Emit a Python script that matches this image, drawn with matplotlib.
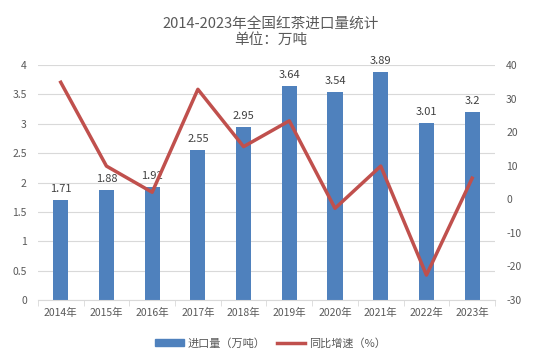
import matplotlib
matplotlib.use("Agg")
import matplotlib.pyplot as plt
from matplotlib.lines import Line2D
from matplotlib.patches import Patch

plt.rcParams['font.family'] = ['Noto Sans CJK SC', 'DejaVu Sans']
plt.rcParams['axes.unicode_minus'] = False

years = ["2014年", "2015年", "2016年", "2017年", "2018年", "2019年", "2020年", "2021年", "2022年", "2023年"]
imports = [1.71, 1.88, 1.92, 2.55, 2.95, 3.64, 3.54, 3.89, 3.01, 3.2]
growth = [34.9, 9.9, 2.1, 32.8, 15.7, 23.4, -2.7, 9.9, -22.6, 6.3]
labels = ["1.71", "1.88", "1.92", "2.55", "2.95", "3.64", "3.54", "3.89", "3.01", "3.2"]

txt = "#595959"
fig = plt.figure(figsize=(5.41, 3.6), dpi=100)
ax = fig.add_axes([0.070, 0.167, 0.845, 0.652])
ax2 = ax.twinx()

x = list(range(len(years)))
ax.bar(x, imports, width=0.33, color="#4F81BD", zorder=2)
for xi, v, l in zip(x, imports, labels):
    ax.text(xi, v + 0.1, l, ha="center", va="bottom", fontsize=8, color="#404040", zorder=5)
ax2.plot(x, growth, color="#C0504D", lw=2.5, zorder=3)

ax.set_ylim(0, 4)
ax.set_yticks([0, 0.5, 1, 1.5, 2, 2.5, 3, 3.5, 4])
ax.set_yticklabels(["0", "0.5", "1", "1.5", "2", "2.5", "3", "3.5", "4"])
ax2.set_ylim(-30, 40)
ax2.set_yticks(range(-30, 41, 10))
ax.set_xlim(-0.5, 9.5)
ax.set_xticks(x)
ax.set_xticklabels(years)
ax.grid(axis="y", color="#D9D9D9", lw=0.8, zorder=0)
ax.set_axisbelow(True)
for a in (ax, ax2):
    for s in a.spines.values():
        s.set_visible(False)
    a.tick_params(axis="y", length=0, colors=txt, labelsize=7.5)
ax.spines["bottom"].set_visible(True)
ax.spines["bottom"].set_color("#D9D9D9")
ax.tick_params(axis="x", length=4, colors=txt, labelsize=7.5, color="#D9D9D9")
ax.set_xticks([i - 0.5 for i in range(11)], minor=True)
ax.tick_params(axis="x", which="minor", length=4, color="#D9D9D9")
ax.tick_params(axis="x", which="major", length=0, pad=6)
ax.tick_params(axis="y", pad=8)
ax2.tick_params(axis="y", pad=8)

fig.text(0.5, 0.935, "2014-2023年全国红茶进口量统计", ha="center", va="center", fontsize=10.5, color=txt)
fig.text(0.5, 0.888, "单位：万吨", ha="center", va="center", fontsize=10.5, color=txt)

handles = [Patch(color="#4F81BD"), Line2D([0], [0], color="#C0504D", lw=2.5)]
fig.legend(handles, ["进口量（万吨）", "同比增速（%）"], loc="center", bbox_to_anchor=(0.5, 0.047),
           ncol=2, frameon=False, fontsize=8, labelcolor=txt, handlelength=2.6, handleheight=0.5,
           columnspacing=1.0, handletextpad=0.3)

fig.savefig("out.png", dpi=100)
